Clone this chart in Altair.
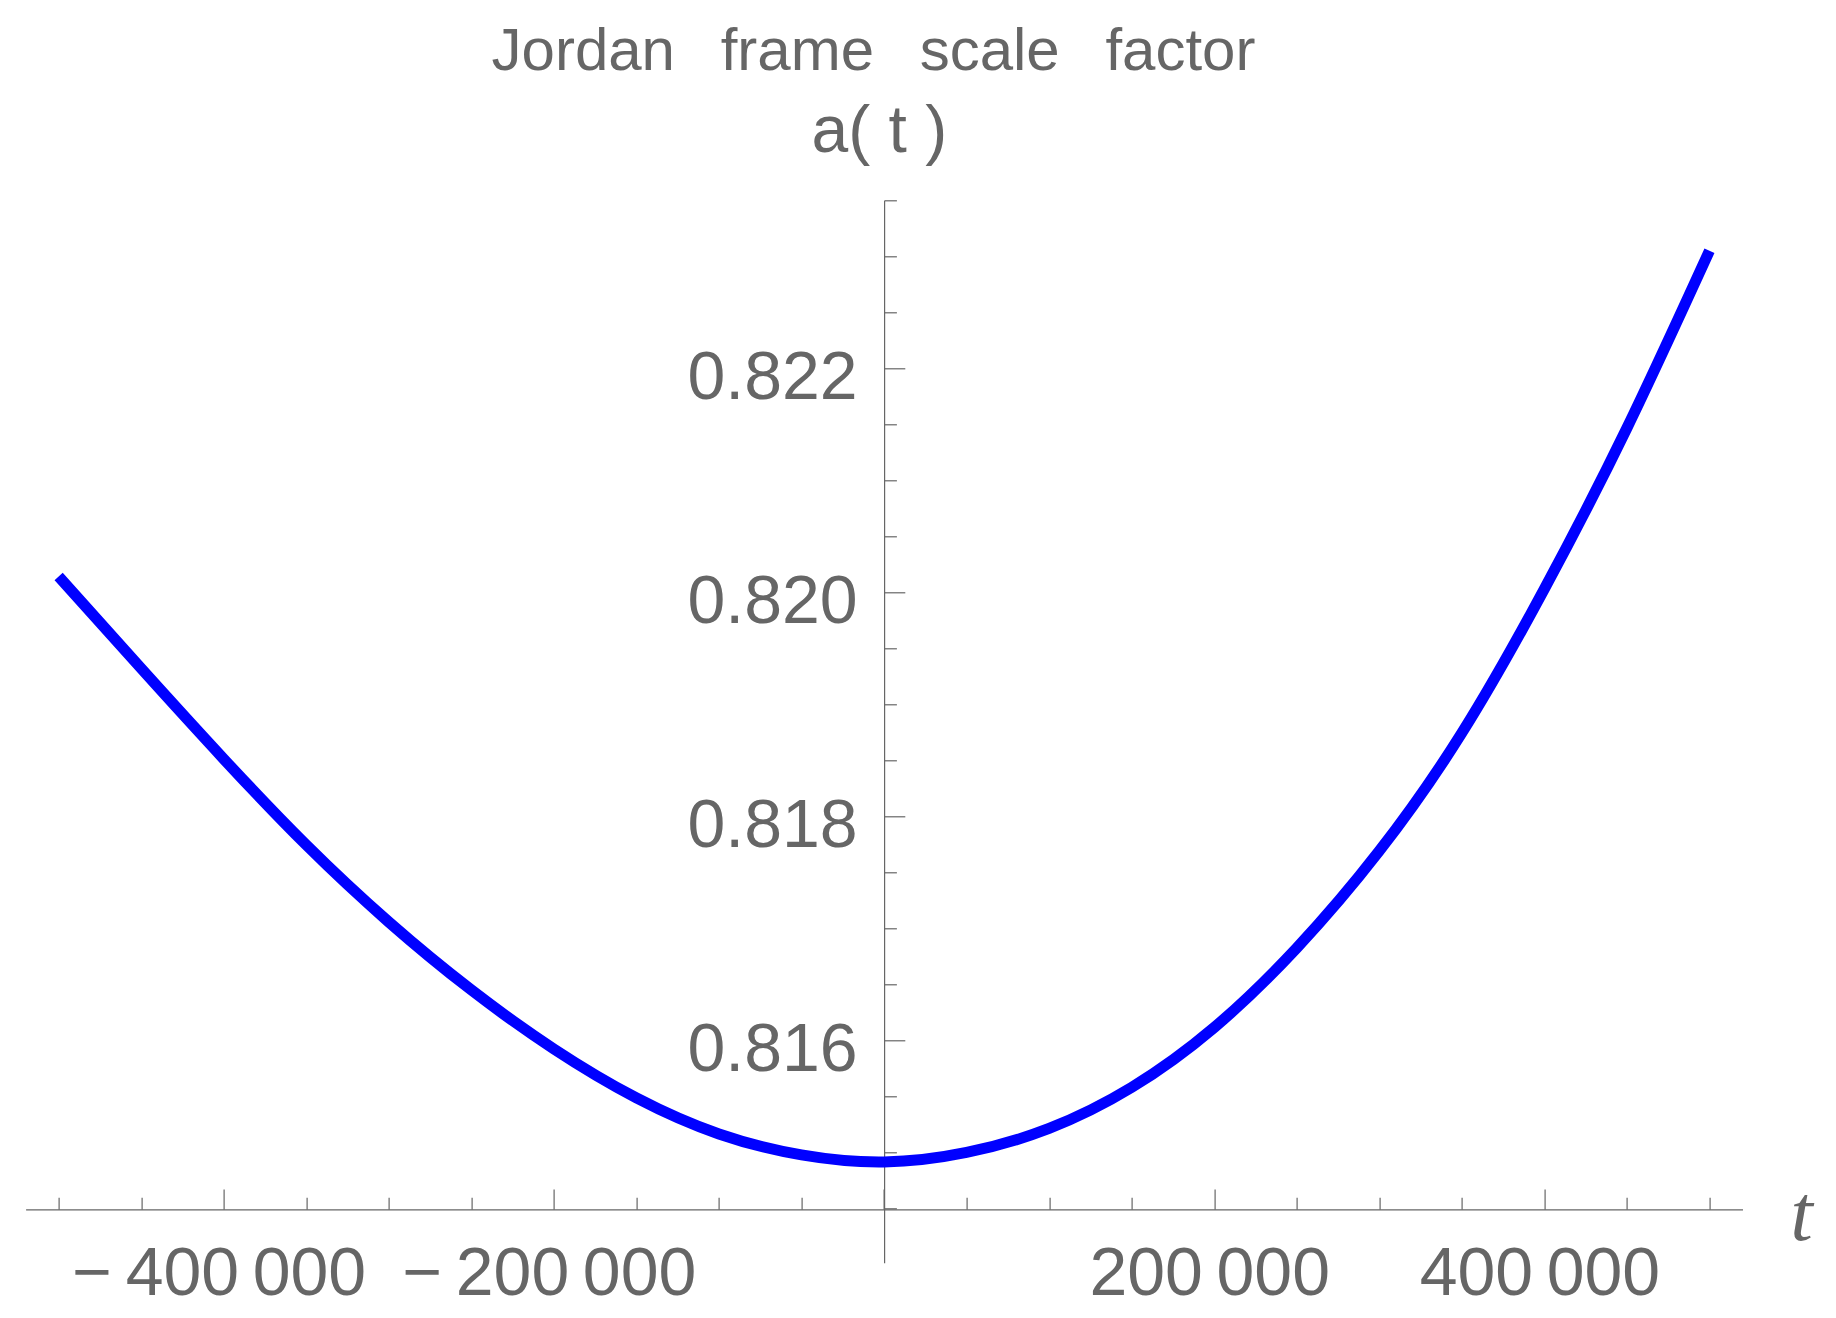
import altair as alt
import pandas as pd

# ---- data ----
t_values = [-500000, -450000, -400000, -350000, -300000, -250000, -200000,
            -150000, -100000, -50000, 0, 50000, 100000, 150000, 200000,
            250000, 300000, 350000, 400000, 450000, 500000]
a_values = [0.820141, 0.819320, 0.818512, 0.817744, 0.817056, 0.816449,
            0.815922, 0.815485, 0.815163, 0.814976, 0.814913, 0.814998,
            0.815213, 0.815579, 0.816114, 0.816824, 0.817690, 0.818744,
            0.820030, 0.821467, 0.823050]

x_ticks = [-500000, -450000, -400000, -350000, -300000, -250000, -200000,
           -150000, -100000, -50000, 0, 50000, 100000, 150000, 200000,
           250000, 300000, 350000, 400000, 450000, 500000]
y_ticks = [0.8145, 0.815, 0.8155, 0.816, 0.8165, 0.817, 0.8175, 0.818,
           0.8185, 0.819, 0.8195, 0.82, 0.8205, 0.821, 0.8215, 0.822,
           0.8225, 0.823, 0.8235]
x_domain = [-520000, 520000]
y_domain = [0.814014, 0.8235]

title_text = ("Jordan \u2009\u2009\u200aframe \u2009\u2009\u200ascale "
              "\u2009\u2009\u200afactor")
y_label = "a( t )"
x_label = "t"

df = pd.DataFrame({"t": t_values, "a": a_values})

GRAY = "#666666"
FONT = "Liberation Sans"

W = 1716.9
H = 1062.4
AX_X = 858.5      # pixel position of t = 0 inside plot
AX_Y = 1009.0     # pixel position of a = 0.8145 inside plot

x_major = "datum.value % 200000 == 0"
y_major = ("abs(datum.value*1000 - round(datum.value*1000)) < 1e-6 && "
           "round(datum.value*1000) % 2 == 0")

x_label_expr = (x_major + " && datum.value != 0 ? "
                "(datum.value < 0 ? '\u2212\u2009' : '') + "
                "replace(format(abs(datum.value), ','), ',', '\u2009') : ''")
y_label_expr = y_major + " ? format(datum.value, '.3f') : ''"

xscale = alt.Scale(domain=x_domain, nice=False, zero=False)
yscale = alt.Scale(domain=y_domain, nice=False, zero=False)

# layer with the visible curve, carrying label axes (bottom / left)
curve = alt.Chart(df).mark_line(
    color="#0000ff", strokeWidth=11, interpolate="natural", strokeCap="butt"
).encode(
    x=alt.X("t:Q", scale=xscale, axis=alt.Axis(
        orient="bottom", offset=-(H - AX_Y), values=x_ticks,
        domain=False, ticks=False, tickSize=0, grid=False,
        labelExpr=x_label_expr, labelFont=FONT, labelFontSize=68,
        labelColor=GRAY, labelPadding=85.7, labelBaseline="alphabetic",
        labelOffset=-5, labelFlush=False, labelOverlap=False, labelLimit=600,
        title=x_label, titleFont="Liberation Serif", titleFontStyle="italic",
        titleFontWeight="normal", titleFontSize=80, titleColor=GRAY,
        titleX=1764.4, titleY=30.7, titleAlign="left",
        titleBaseline="alphabetic", titleAngle=0)),
    y=alt.Y("a:Q", scale=yscale, axis=alt.Axis(
        orient="left", offset=-AX_X, values=y_ticks,
        domain=False, ticks=False, tickSize=0, grid=False,
        labelExpr=y_label_expr, labelFont=FONT, labelFontSize=68,
        labelColor=GRAY, labelPadding=27, labelBaseline="alphabetic",
        labelOffset=30.7, labelAlign="right", labelFlush=False,
        labelOverlap=False, labelLimit=600,
        title=y_label, titleFont=FONT, titleFontWeight="normal",
        titleFontSize=66, titleColor=GRAY, titleAngle=0,
        titleX=-5.3, titleY=-48.6, titleAlign="center",
        titleBaseline="alphabetic", titleLimit=1000)),
)

# invisible twin carrying the tick axes (ticks pointing into the plot)
ticks_layer = alt.Chart(df).mark_line(opacity=0).encode(
    x=alt.X("t:Q", scale=xscale, axis=alt.Axis(
        orient="top", offset=-AX_Y, values=x_ticks, labels=False,
        grid=False, domain=True, domainColor=GRAY, domainWidth=1.2,
        ticks=True, tickColor=GRAY, tickWidth=1.2,
        tickSize={"condition": {"test": x_major, "value": 20.3}, "value": 12},
        title=title_text, titleFont=FONT, titleFontWeight="normal",
        titleFontSize=60, titleColor=GRAY, titleX=847.4,
        titleY=70 - 1209.3, titleAlign="center",
        titleBaseline="alphabetic", titleAngle=0, titleLimit=2000)),
    y=alt.Y("a:Q", scale=yscale, axis=alt.Axis(
        orient="right", offset=-(W - AX_X), values=y_ticks, labels=False,
        grid=False, domain=True, domainColor=GRAY, domainWidth=1.2,
        ticks=True, tickColor=GRAY, tickWidth=1.2,
        tickSize={"condition": {"test": y_major, "value": 20.7}, "value": 12.3},
        title="")),
)

chart = alt.layer(ticks_layer, curve).resolve_axis(
    x="independent", y="independent"
).properties(
    width=W, height=H,
    autosize=alt.AutoSizeParams(type="none"),
    padding={"left": 17.6, "top": 192.3, "right": 80, "bottom": 47},
    background="white",
).configure_view(strokeWidth=0)

chart.save("out.html", embed_options={"renderer": "svg", "actions": False})
